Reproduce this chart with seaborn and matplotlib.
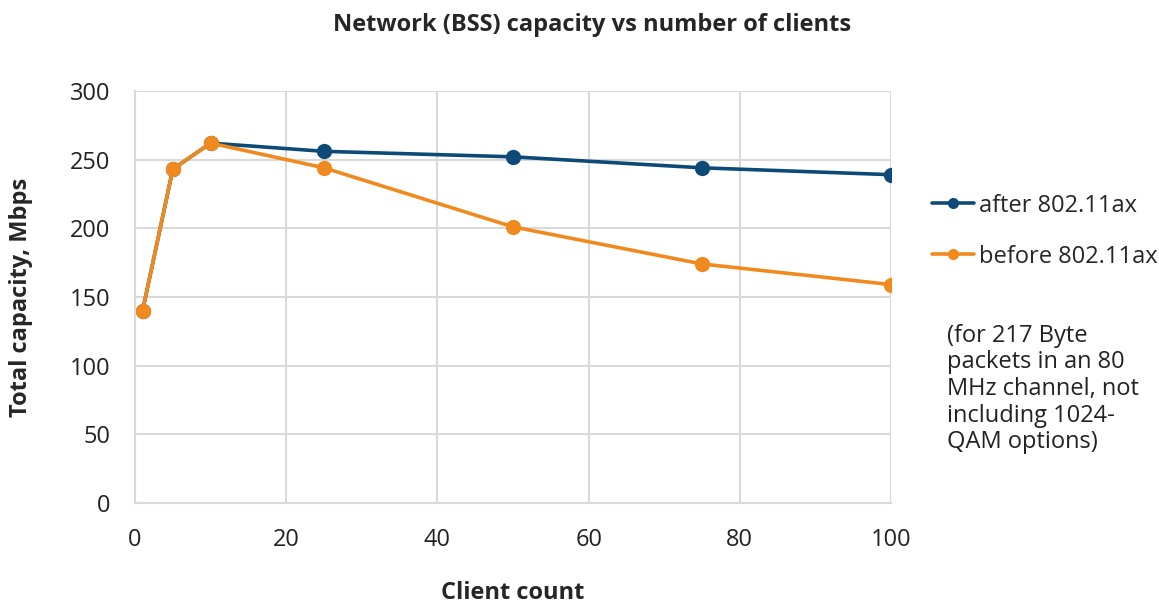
import seaborn as sns
import matplotlib.pyplot as plt
import pandas as pd

# Data
clients = [1, 5, 10, 25, 50, 75, 100]
after_ax = [140, 243, 262, 256, 252, 244, 239]
before_ax = [140, 243, 262, 244, 201, 174, 159]
series_names = ['after 802.11ax', 'before 802.11ax']
y_ticks = [0, 50, 100, 150, 200, 250, 300]
x_ticks = [0, 20, 40, 60, 80, 100]

COLORS = {'after 802.11ax': '#0e4a78', 'before 802.11ax': '#f08a1e'}

sns.set_style('whitegrid')
plt.rcParams['font.family'] = ['Open Sans', 'DejaVu Sans']

df = pd.DataFrame({
    'Client count': clients * 2,
    'capacity': after_ax + before_ax,
    'series': [series_names[0]] * len(clients) + [series_names[1]] * len(clients),
})

fig = plt.figure(figsize=(11.59, 6.06), dpi=100)
ax = fig.add_axes([0.1165, 0.170, 0.6523, 0.680])

sns.lineplot(data=df, x='Client count', y='capacity', hue='series',
             hue_order=series_names, palette=COLORS, marker='o',
             markersize=11, markeredgewidth=0, linewidth=2.6, ax=ax)

ax.set_xlim(0, 100)
ax.set_ylim(0, 300)
ax.set_xticks(x_ticks)
ax.set_yticks(y_ticks)
ax.tick_params(axis='both', labelsize=17, colors='#222222', length=0, pad=18)
ax.grid(True, color='#d9d9d9', linewidth=1.5)
for side in ['top', 'right']:
    ax.spines[side].set_visible(False)
for side in ['left', 'bottom']:
    ax.spines[side].set_color('#d9d9d9')
    ax.spines[side].set_linewidth(1.5)

ax.set_xlabel('Client count', fontsize=17, fontweight='bold', labelpad=21)
ax.set_ylabel('Total capacity, Mbps', fontsize=17, fontweight='bold', labelpad=26)
fig.text(0.511, 0.959, 'Network (BSS) capacity vs number of clients',
         ha='center', va='center', fontsize=17, fontweight='bold')

handles, labels = ax.get_legend_handles_labels()
for h in handles:
    h.set_markersize(8)
leg = ax.legend(handles, labels, loc='upper left', bbox_to_anchor=(1.054, 0.751),
                frameon=False, fontsize=17, handlelength=1.8, handletextpad=0.2,
                labelspacing=1.15, borderaxespad=0, borderpad=0)

fig.text(0.817, 0.466,
         '(for 217 Byte\npackets in an 80\nMHz channel, not\nincluding 1024-\nQAM options)',
         ha='left', va='top', fontsize=17, color='#222222', linespacing=1.15)

plt.savefig('out.png', dpi=100)
plt.close()
